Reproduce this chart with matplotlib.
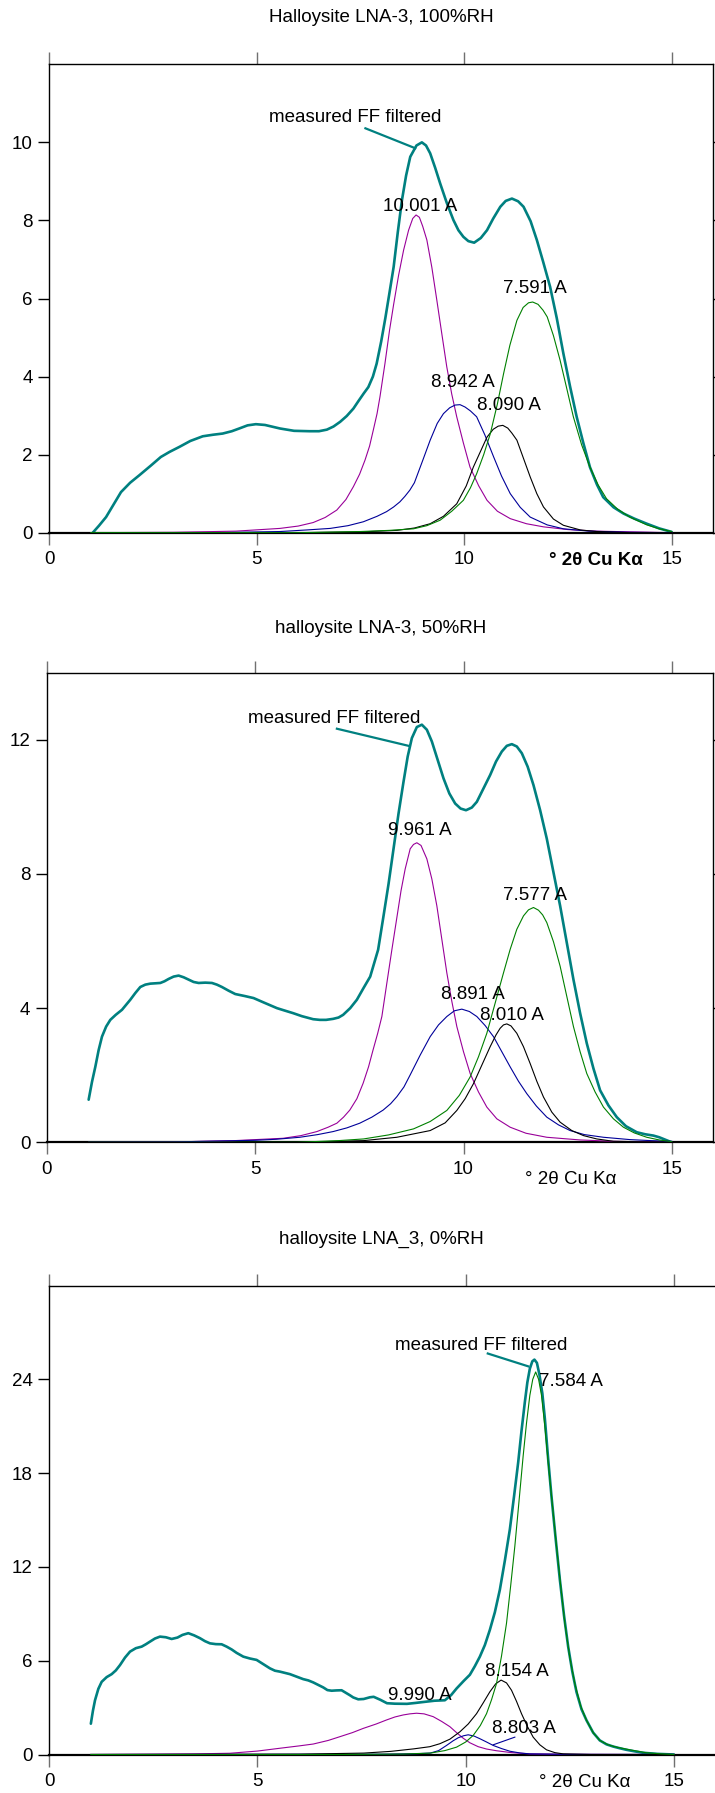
#!/usr/bin/python3

import matplotlib
matplotlib.use('Agg')
from matplotlib import pyplot as plt

plt.rcParams['font.family'] = ['Liberation Sans', 'DejaVu Sans']
plt.rcParams['font.size'] = 13.5

# ---------------- Halloysite LNA-3, 100%RH ----------------
meas1_x = [1.05, 1.2, 1.37, 1.55, 1.73, 1.95, 2.17, 2.45, 2.69, 2.9, 3.14, 3.4, 3.7, 3.95,
           4.18, 4.4, 4.58, 4.78, 4.98, 5.2, 5.56, 5.9, 6.27, 6.5, 6.69, 6.85, 7.01, 7.17,
           7.33, 7.45, 7.58, 7.69, 7.8, 7.89, 8.0, 8.1, 8.2, 8.3, 8.4, 8.5, 8.6, 8.7, 8.85,
           8.98, 9.08, 9.18, 9.3, 9.42, 9.58, 9.74, 9.86, 9.98, 10.1, 10.24, 10.4, 10.55,
           10.7, 10.87, 11.0, 11.15, 11.3, 11.43, 11.6, 11.75, 11.9, 12.07, 12.23, 12.39,
           12.55, 12.71, 12.87, 13.03, 13.2, 13.35, 13.6, 13.84, 14.1, 14.4, 14.7, 15.0]
meas1_y = [0.0, 0.18, 0.4, 0.72, 1.04, 1.28, 1.47, 1.72, 1.94, 2.07, 2.2, 2.35, 2.47, 2.51,
           2.54, 2.6, 2.67, 2.75, 2.78, 2.76, 2.67, 2.61, 2.6, 2.6, 2.64, 2.72, 2.84, 2.99,
           3.18, 3.37, 3.57, 3.73, 4.0, 4.33, 4.9, 5.5, 6.15, 6.81, 7.7, 8.52, 9.15, 9.63, 9.92,
           10.0, 9.92, 9.72, 9.35, 8.95, 8.45, 8.01, 7.75, 7.58, 7.47, 7.43, 7.55, 7.75,
           8.05, 8.35, 8.5, 8.56, 8.49, 8.35, 7.98, 7.5, 6.95, 6.3, 5.5, 4.59,
           3.75, 2.97, 2.3, 1.68, 1.23, 0.91, 0.65, 0.49, 0.36, 0.23, 0.11, 0.02]

p10001_x = [1.0, 3.0, 4.5, 5.56, 6.0, 6.36, 6.65, 6.93, 7.15, 7.33, 7.48, 7.61, 7.72, 7.81,
            7.9, 7.97, 8.09, 8.2, 8.3, 8.42, 8.54, 8.66, 8.76, 8.84, 8.92, 9.0, 9.1, 9.22,
            9.34, 9.46, 9.58, 9.7, 9.82, 9.98, 10.14, 10.35, 10.55, 10.8, 11.11, 11.5,
            11.91, 12.5, 13.19, 15.0]
p10001_y = [0.0, 0.01, 0.04, 0.11, 0.17, 0.26, 0.39, 0.58, 0.85, 1.18, 1.5, 1.86, 2.22, 2.63,
            3.05, 3.48, 4.33, 5.18, 5.85, 6.6, 7.24, 7.75, 8.05, 8.14, 8.08, 7.85, 7.5, 6.8,
            5.96, 5.1, 4.25, 3.55, 2.97, 2.3, 1.68, 1.2, 0.83, 0.55, 0.36, 0.23,
            0.15, 0.08, 0.04, 0.0]

p8942_x = [1.0, 4.0, 5.56, 6.2, 6.77, 7.2, 7.57, 7.9, 8.13, 8.3, 8.45, 8.57, 8.69, 8.8, 9.0,
           9.18, 9.35, 9.5, 9.65, 9.78, 9.9, 10.02, 10.15, 10.3, 10.5, 10.71, 10.9, 11.11,
           11.35, 11.59, 12.0, 12.39, 13.0, 14.0, 15.0]
p8942_y = [0.0, 0.0, 0.03, 0.07, 0.11, 0.18, 0.28, 0.42, 0.54, 0.66, 0.79, 0.93, 1.09, 1.28,
           1.85, 2.37, 2.8, 3.05, 3.2, 3.27, 3.28, 3.22, 3.12, 2.97, 2.5, 1.94, 1.45, 1.0,
           0.65, 0.4, 0.2, 0.1, 0.04, 0.01, 0.0]

p8090_x = [1.0, 6.0, 7.5, 8.38, 8.8, 9.18, 9.5, 9.82, 10.05, 10.22, 10.4, 10.55, 10.7, 10.82,
           10.93, 11.05, 11.15, 11.27, 11.43, 11.59, 11.75, 11.91, 12.15, 12.39, 12.8,
           13.19, 14.0, 15.0]
p8090_y = [0.0, 0.0, 0.02, 0.06, 0.12, 0.23, 0.42, 0.74, 1.2, 1.68, 2.1, 2.45, 2.65, 2.73,
           2.75, 2.68, 2.55, 2.37, 1.9, 1.43, 1.0, 0.66, 0.35, 0.19, 0.07,
           0.03, 0.0, 0.0]

p7591_x = [1.0, 6.0, 7.5, 8.2, 8.78, 9.1, 9.42, 9.7, 9.98, 10.15, 10.3, 10.47, 10.63, 10.8,
           10.95, 11.1, 11.27, 11.42, 11.55, 11.65, 11.78, 11.9, 12.0, 12.15, 12.31,
           12.47, 12.63, 12.83, 13.03, 13.23, 13.43, 13.7, 13.99, 14.4, 14.7, 15.0]
p7591_y = [0.0, 0.0, 0.03, 0.06, 0.1, 0.18, 0.32, 0.55, 0.83, 1.15, 1.51, 2.0, 2.54, 3.3,
           4.08, 4.8, 5.44, 5.77, 5.89, 5.91, 5.85, 5.7, 5.53, 5.05, 4.42,
           3.7, 2.97, 2.25, 1.68, 1.22, 0.87, 0.6, 0.4, 0.2, 0.1, 0.03]

# ---------------- halloysite LNA-3, 50%RH ----------------
meas2_x = [1.0, 1.08, 1.16, 1.24, 1.32, 1.42, 1.52, 1.65, 1.8, 2.0, 2.12, 2.24, 2.36, 2.48,
           2.6, 2.72, 2.82, 2.92, 3.04, 3.16, 3.28, 3.4, 3.52, 3.64, 3.8, 3.96, 4.08, 4.2,
           4.36, 4.52, 4.75, 4.96, 5.2, 5.52, 5.7, 5.91, 6.12, 6.39, 6.55, 6.7, 6.87, 7.0,
           7.11, 7.28, 7.44, 7.6, 7.76, 7.95, 8.08, 8.2, 8.32, 8.44, 8.56, 8.66, 8.76, 8.88,
           9.0, 9.12, 9.24, 9.38, 9.52, 9.66, 9.8, 9.93, 10.06, 10.2, 10.32, 10.48, 10.64,
           10.78, 10.92, 11.04, 11.16, 11.28, 11.4, 11.54, 11.68, 11.84, 12.0, 12.16, 12.32,
           12.48, 12.64, 12.8, 12.96, 13.12, 13.28, 13.48, 13.68, 13.9, 14.16, 14.36, 14.56,
           14.7, 14.8, 15.0]
meas2_y = [1.27, 1.8, 2.25, 2.75, 3.15, 3.45, 3.65, 3.8, 3.95, 4.25, 4.45, 4.63, 4.7, 4.73,
           4.74, 4.75, 4.8, 4.87, 4.94, 4.97, 4.92, 4.85, 4.78, 4.75, 4.76, 4.75, 4.7, 4.63,
           4.52, 4.42, 4.36, 4.3, 4.17, 4.0, 3.93, 3.85, 3.76, 3.67, 3.65, 3.65, 3.68, 3.72,
           3.8, 4.0, 4.25, 4.6, 4.94, 5.74, 6.75, 7.7, 8.75, 9.8, 10.75, 11.5, 12.05, 12.38,
           12.45, 12.3, 11.95, 11.4, 10.85, 10.4, 10.1, 9.95, 9.9, 9.98, 10.15, 10.55, 10.95,
           11.35, 11.65, 11.82, 11.87, 11.8, 11.6, 11.2, 10.65, 9.9, 9.05, 8.05, 7.05,
           5.95, 4.85, 3.85, 2.95, 2.2, 1.55, 1.1, 0.75, 0.48, 0.3, 0.24, 0.2,
           0.15, 0.1, 0.0]

p9961_x = [1.0, 3.0, 4.5, 5.67, 6.1, 6.48, 6.75, 6.96, 7.12, 7.27, 7.44, 7.59, 7.72, 7.83,
           7.94, 8.04, 8.16, 8.28, 8.4, 8.5, 8.6, 8.72, 8.8, 8.88, 8.98, 9.12, 9.24, 9.36,
           9.48, 9.6, 9.72, 9.84, 10.0, 10.16, 10.36, 10.56, 10.8, 11.12, 11.5, 12.0, 12.8,
           13.6, 15.0]
p9961_y = [0.0, 0.01, 0.05, 0.12, 0.2, 0.32, 0.45, 0.57, 0.75, 0.96, 1.3, 1.76, 2.25, 2.76,
           3.25, 3.75, 4.75, 5.74, 6.7, 7.5, 8.15, 8.75, 8.88, 8.93, 8.85, 8.45, 7.85, 7.05,
           6.05, 5.05, 4.2, 3.45, 2.7, 2.05, 1.5, 1.05, 0.7, 0.45, 0.27, 0.15, 0.07,
           0.03, 0.0]

p8891_x = [1.0, 3.0, 5.0, 5.5, 6.07, 6.5, 6.87, 7.2, 7.51, 7.8, 8.07, 8.25, 8.4, 8.57, 8.72,
           8.96, 9.2, 9.4, 9.6, 9.78, 9.96, 10.14, 10.32, 10.52, 10.72, 10.92, 11.12, 11.32,
           11.52, 11.75, 12.0, 12.28, 12.56, 12.9, 13.36, 14.0, 14.5, 15.0]
p8891_y = [0.0, 0.01, 0.06, 0.09, 0.15, 0.23, 0.32, 0.43, 0.57, 0.75, 0.96, 1.15, 1.36, 1.65,
           2.01, 2.6, 3.15, 3.5, 3.75, 3.92, 3.97, 3.9, 3.75, 3.48, 3.15, 2.7, 2.25, 1.82,
           1.45, 1.08, 0.75, 0.52, 0.35, 0.23, 0.15, 0.08, 0.05, 0.03]

p8010_x = [1.0, 6.0, 7.6, 8.4, 9.2, 9.56, 9.84, 10.04, 10.24, 10.44, 10.64, 10.78, 10.88, 10.96,
           11.04, 11.14, 11.28, 11.44, 11.6, 11.76, 11.92, 12.12, 12.32, 12.6, 12.88, 13.2,
           13.6, 15.0]
p8010_y = [0.0, 0.0, 0.05, 0.15, 0.35, 0.58, 0.95, 1.3, 1.75, 2.3, 2.85, 3.2, 3.4, 3.5,
           3.53, 3.47, 3.25, 2.85, 2.35, 1.82, 1.35, 0.9, 0.6, 0.35, 0.2, 0.1,
           0.03, 0.0]

p7577_x = [1.0, 6.0, 7.0, 7.6, 8.2, 8.8, 9.2, 9.6, 9.9, 10.16, 10.36, 10.56, 10.76, 10.96,
           11.12, 11.28, 11.44, 11.56, 11.68, 11.8, 11.9, 12.0, 12.16, 12.32, 12.48, 12.64,
           12.8, 12.96, 13.16, 13.36, 13.6, 13.84, 14.1, 14.4, 14.7, 15.0]
p7577_y = [0.0, 0.0, 0.05, 0.1, 0.22, 0.4, 0.62, 0.95, 1.4, 1.95, 2.55, 3.25, 4.15, 5.05,
           5.75, 6.35, 6.75, 6.93, 7.0, 6.92, 6.78, 6.55, 5.98, 5.25, 4.35, 3.45,
           2.7, 2.05, 1.5, 1.05, 0.7, 0.45, 0.28, 0.15, 0.07, 0.02]

# ---------------- halloysite LNA_3, 0%RH ----------------
meas3_x = [1.0, 1.05, 1.1, 1.18, 1.26, 1.38, 1.5, 1.6, 1.7, 1.82, 1.94, 2.08, 2.22, 2.32, 2.42,
           2.54, 2.66, 2.8, 2.94, 3.08, 3.2, 3.34, 3.48, 3.62, 3.74, 3.86, 4.0, 4.14, 4.26,
           4.38, 4.5, 4.66, 4.82, 4.98, 5.14, 5.3, 5.42, 5.54, 5.66, 5.78, 5.94, 6.1, 6.22,
           6.34, 6.46, 6.58, 6.68, 6.78, 6.9, 7.02, 7.12, 7.22, 7.3, 7.42, 7.55, 7.7, 7.79,
           7.95, 8.11, 8.3, 8.59, 8.8, 8.99, 9.25, 9.5, 9.65, 9.78, 9.95, 10.1, 10.22, 10.34,
           10.46, 10.58, 10.7, 10.82, 10.94, 11.06, 11.16, 11.26, 11.34, 11.42, 11.48, 11.54,
           11.6, 11.65, 11.71, 11.77, 11.84, 11.9, 11.98, 12.06, 12.16, 12.26, 12.36, 12.46,
           12.56, 12.66, 12.78, 12.9, 13.06, 13.22, 13.38, 13.54, 13.7, 13.86, 14.06, 14.26,
           14.6, 15.0]
meas3_y = [1.97, 2.8, 3.47, 4.2, 4.65, 4.95, 5.14, 5.38, 5.72, 6.2, 6.58, 6.8, 6.9, 7.05, 7.22,
           7.42, 7.54, 7.5, 7.39, 7.48, 7.65, 7.76, 7.62, 7.44, 7.25, 7.11, 7.06, 7.05, 6.9,
           6.72, 6.5, 6.26, 6.14, 6.05, 5.78, 5.51, 5.36, 5.3, 5.22, 5.14, 4.98, 4.82, 4.74,
           4.61, 4.45, 4.29, 4.12, 4.08, 4.1, 4.11, 3.95, 3.79, 3.65, 3.53, 3.55, 3.66, 3.69,
           3.5, 3.28, 3.25, 3.24, 3.3, 3.36, 3.44, 3.47, 3.8, 4.22, 4.7, 5.1, 5.65, 6.26,
           7.0, 7.97, 9.1, 10.54, 12.4, 14.4, 16.5, 18.68, 20.7, 22.54, 23.8, 24.68,
           25.15, 25.26, 25.05, 24.3, 23.1, 21.5, 18.9, 16.5, 13.8, 11.2, 8.9, 6.9,
           5.3, 4.0, 2.9, 2.19, 1.4, 0.9, 0.65, 0.51, 0.4, 0.3, 0.2, 0.11,
           0.04, 0.0]

p9990_x = [1.0, 2.5, 3.5, 4.34, 5.0, 5.54, 6.0, 6.34, 6.7, 6.98, 7.28, 7.54, 7.85, 8.1, 8.3,
           8.5, 8.66, 8.82, 9.0, 9.22, 9.42, 9.62, 9.78, 9.94, 10.1, 10.3, 10.5, 10.74, 11.1,
           11.54, 12.5, 15.0]
p9990_y = [0.0, 0.02, 0.04, 0.08, 0.22, 0.4, 0.55, 0.67, 0.9, 1.14, 1.4, 1.67, 1.95, 2.21, 2.4,
           2.53, 2.6, 2.64, 2.6, 2.42, 2.12, 1.78, 1.4, 1.04, 0.75, 0.5, 0.35, 0.24, 0.12,
           0.04, 0.01, 0.0]

p8803_x = [1.0, 8.0, 8.8, 9.15, 9.35, 9.54, 9.7, 9.82, 9.95, 10.06, 10.2, 10.34, 10.5, 10.66,
           10.86, 11.06, 11.3, 11.54, 12.5, 15.0]
p8803_y = [0.0, 0.02, 0.05, 0.09, 0.25, 0.58, 0.88, 1.07, 1.2, 1.26, 1.18, 1.01, 0.8, 0.58,
           0.38, 0.21, 0.1, 0.04, 0.01, 0.0]

p8154_x = [1.0, 6.0, 7.55, 8.2, 8.75, 9.14, 9.38, 9.62, 9.86, 10.06, 10.26, 10.42, 10.58,
           10.72, 10.85, 10.98, 11.1, 11.22, 11.34, 11.48, 11.62, 11.78, 11.94, 12.14, 12.34,
           13.0, 15.0]
p8154_y = [0.0, 0.02, 0.09, 0.2, 0.36, 0.5, 0.69, 0.98, 1.45, 1.95, 2.61, 3.3, 4.01,
           4.52, 4.76, 4.58, 4.11, 3.4, 2.61, 1.8, 1.11, 0.62, 0.3, 0.12, 0.04,
           0.0, 0.0]

p7584_x = [1.0, 7.0, 8.5, 9.15, 9.5, 9.78, 10.0, 10.18, 10.35, 10.5, 10.62, 10.74, 10.86, 10.98,
           11.08, 11.18, 11.28, 11.38, 11.46, 11.54, 11.61, 11.68, 11.75, 11.82, 11.9, 11.98,
           12.08, 12.18, 12.28, 12.38, 12.5, 12.62, 12.76, 12.9, 13.06, 13.22, 13.42, 13.62,
           13.98, 14.34, 14.7, 15.0]
p7584_y = [0.0, 0.0, 0.03, 0.09, 0.25, 0.47, 0.8, 1.22, 1.85, 2.61, 3.5, 4.54, 6.3, 8.4,
           10.8, 13.33, 16.2, 19.11, 21.2, 22.97, 24.0, 24.47, 24.0, 22.97, 21.0, 18.68,
           16.0, 13.33, 10.8, 8.4, 6.2, 4.54, 3.1, 2.19, 1.4, 0.9, 0.62, 0.47,
           0.28, 0.11, 0.04, 0.0]

TEAL = '#008080'
PURPLE = '#990099'
BLUE = '#000099'
BLACK = '#000000'
GREEN = '#008000'

W, H = 715.0, 1793.0


def setup_axes(fig, left, top, bottom, unit, ymax, yticks):
    # pixel geometry -> figure fraction
    ax = fig.add_axes([left / W, 1 - bottom / H, 16 * unit / W, (bottom - top) / H])
    ax.set_xlim(0, 16)
    ax.set_ylim(0, ymax)
    ax.set_xticks([0, 5, 10, 15])
    ax.set_xticklabels(['0', '5', '10', '15'])
    ax.set_yticks(yticks)
    ax.tick_params(axis='x', which='both', bottom=True, top=True, direction='out',
                   length=8.5, width=1.0, pad=5, color='#707070')
    ax.tick_params(axis='x', top=True, labeltop=False)
    ax.tick_params(axis='y', left=True, right=True, direction='out',
                   length=8, width=1.0, pad=4, color='black')
    for s in ['left', 'top', 'right']:
        ax.spines[s].set_linewidth(1.0)
    ax.spines['bottom'].set_linewidth(1.6)
    # top ticks are black, bottom ones grey
    for t in ax.xaxis.get_major_ticks():
        t.tick2line.set_color('black')
    return ax


def draw_panel(ax, meas_x, meas_y, comps):
    ax.plot(meas_x, meas_y, color=TEAL, lw=1.9, solid_capstyle='round',
            solid_joinstyle='round', zorder=2)
    for cx, cy, col in comps:
        ax.plot(cx, cy, color=col, lw=0.8, solid_joinstyle='round', zorder=3)


def xlabel(ax, x, off, bold=False):
    ax.annotate('\u00b0 2\u03b8 Cu K\u03b1', xy=(x, 0), xycoords=('data', 'axes fraction'),
                xytext=(0, -off), textcoords='offset points', ha='center', va='center',
                fontweight='bold' if bold else 'normal', annotation_clip=False)


fig = plt.figure(figsize=(7.15, 17.93), dpi=100)

# panel 1
ax1 = setup_axes(fig, 49.2, 64.3, 532.7, 41.5, 12, [0, 2, 4, 6, 8, 10])
draw_panel(ax1, meas1_x, meas1_y,
           [(p10001_x, p10001_y, PURPLE), (p8942_x, p8942_y, BLUE),
            (p8090_x, p8090_y, BLACK), (p7591_x, p7591_y, GREEN)])
ax1.plot([7.62, 8.82], [10.36, 9.85], color=TEAL, lw=1.6)
ax1.text(7.38, 10.64, 'measured FF filtered', ha='center', va='center')
ax1.text(8.94, 8.35, '10.001 A', ha='center', va='center')
ax1.text(11.71, 6.26, '7.591 A', ha='center', va='center')
ax1.text(9.96, 3.84, '8.942 A', ha='center', va='center')
ax1.text(11.07, 3.26, '8.090 A', ha='center', va='center')
xlabel(ax1, 13.18, 20, bold=True)
fig.text(381 / W, 1 - 18 / H, 'Halloysite LNA-3, 100%RH', ha='center', va='center')

# panel 2
ax2 = setup_axes(fig, 47.0, 672.7, 1142.3, 41.65, 14, [0, 4, 8, 12])
draw_panel(ax2, meas2_x, meas2_y,
           [(p9961_x, p9961_y, PURPLE), (p8891_x, p8891_y, BLUE),
            (p8010_x, p8010_y, BLACK), (p7577_x, p7577_y, GREEN)])
ax2.plot([6.96, 8.68], [12.33, 11.82], color=TEAL, lw=1.6)
ax2.text(6.9, 12.62, 'measured FF filtered', ha='center', va='center')
ax2.text(8.96, 9.3, '9.961 A', ha='center', va='center')
ax2.text(11.72, 7.35, '7.577 A', ha='center', va='center')
ax2.text(10.22, 4.4, '8.891 A', ha='center', va='center')
ax2.text(11.16, 3.77, '8.010 A', ha='center', va='center')
xlabel(ax2, 12.58, 27)
fig.text(381 / W, 1 - 628.7 / H, 'halloysite LNA-3, 50%RH', ha='center', va='center')

# panel 3
ax3 = setup_axes(fig, 49.2, 1285.5, 1754.5, 41.65, 30, [0, 6, 12, 18, 24])
draw_panel(ax3, meas3_x, meas3_y,
           [(p9990_x, p9990_y, PURPLE), (p8803_x, p8803_y, BLUE),
            (p8154_x, p8154_y, BLACK), (p7584_x, p7584_y, GREEN)])
ax3.plot([10.53, 11.5], [25.65, 24.83], color=TEAL, lw=1.6)
ax3.plot([10.66, 11.18], [0.62, 1.11], color=BLUE, lw=0.8)
ax3.text(10.36, 26.18, 'measured FF filtered', ha='center', va='center')
ax3.text(12.52, 23.83, '7.584 A', ha='center', va='center')
ax3.text(11.22, 5.29, '8.154 A', ha='center', va='center')
ax3.text(8.89, 3.75, '9.990 A', ha='center', va='center')
ax3.text(11.39, 1.65, '8.803 A', ha='center', va='center')
xlabel(ax3, 12.86, 20)
fig.text(381 / W, 1 - 1239.7 / H, 'halloysite LNA_3, 0%RH', ha='center', va='center')

fig.savefig('out.png', dpi=100)
